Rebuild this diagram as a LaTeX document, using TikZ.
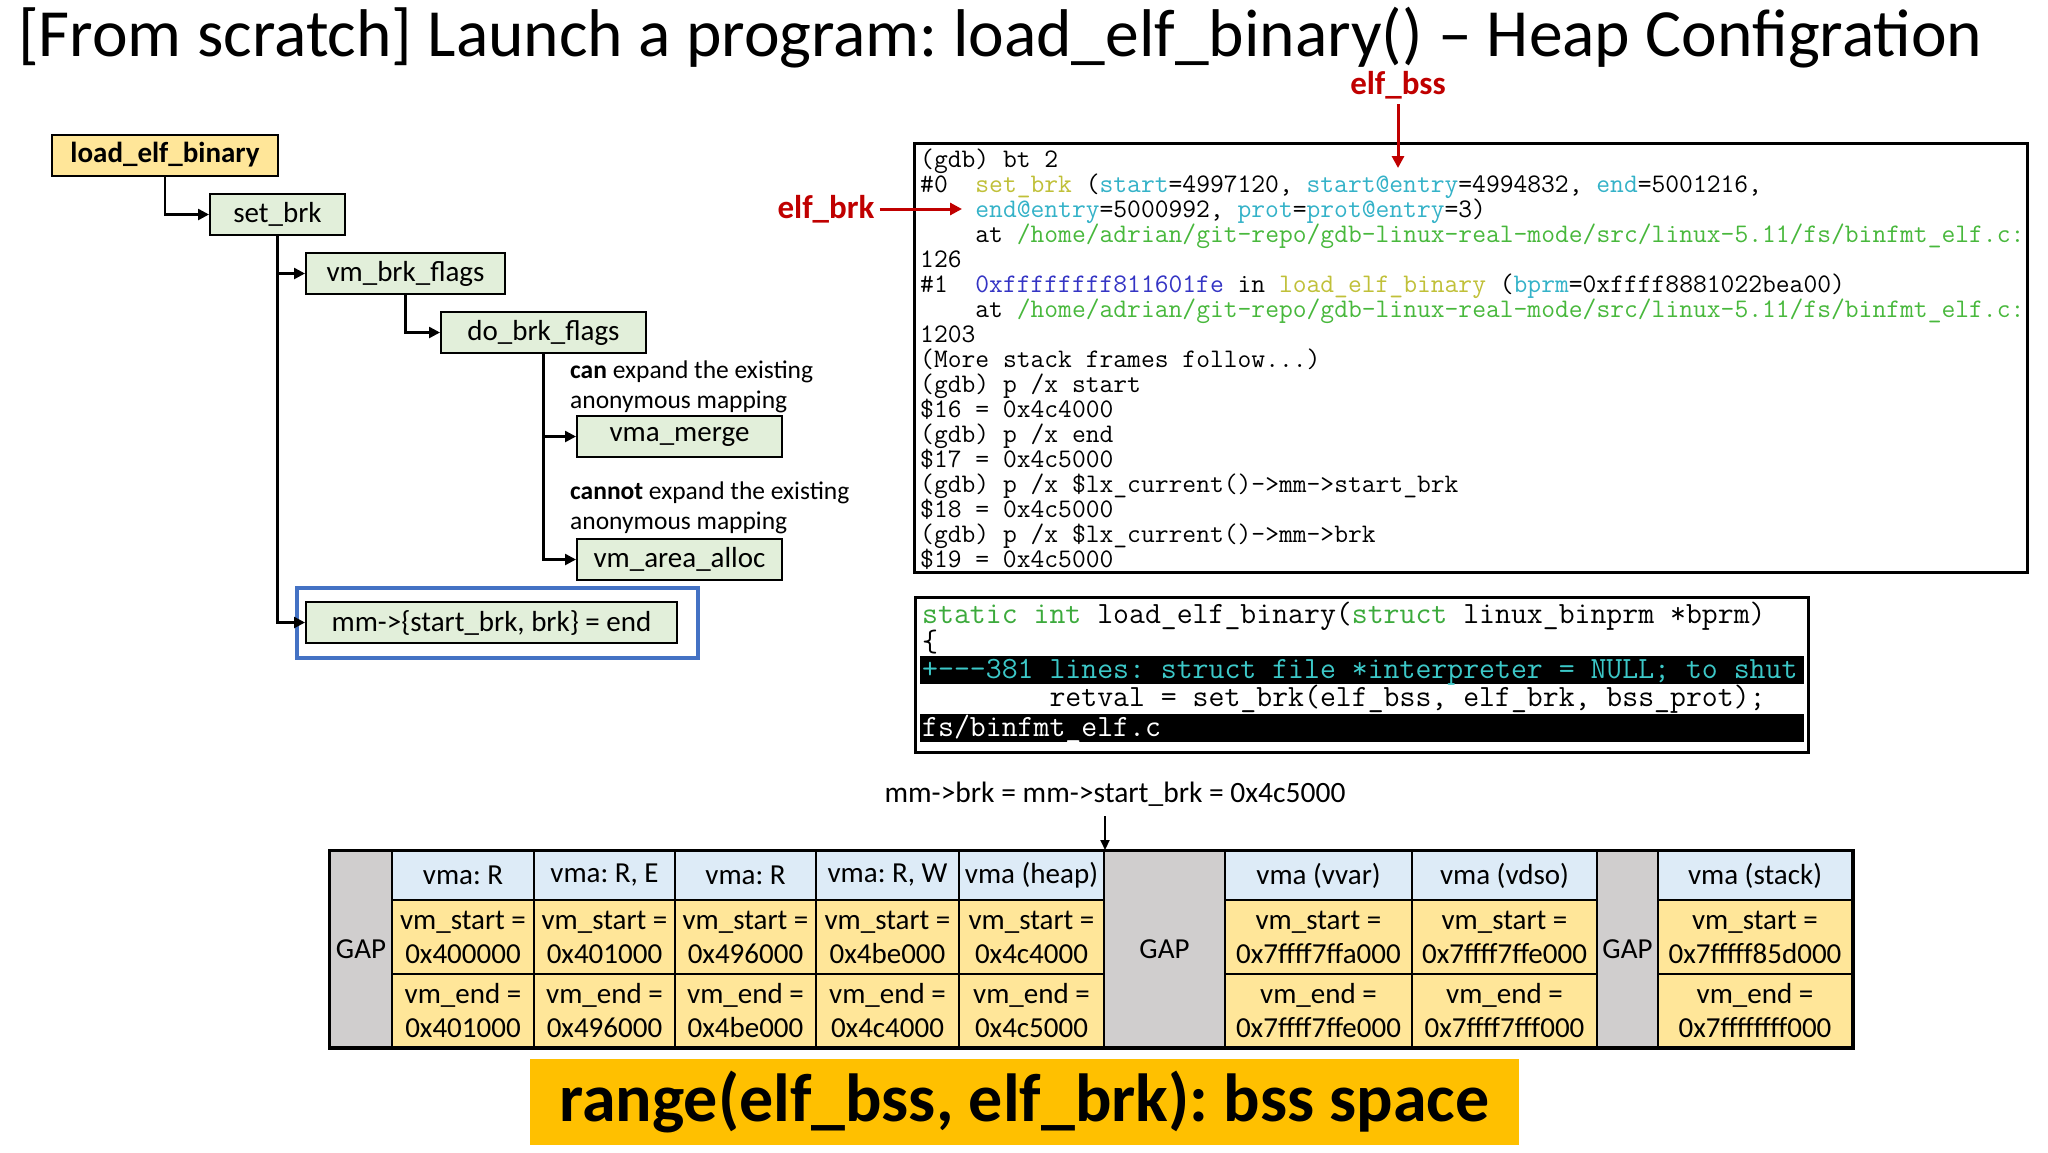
\documentclass[tikz,border=0pt]{standalone}
\usepackage{fontspec}
\setmainfont{Carlito}
\usetikzlibrary{arrows.meta}
\definecolor{boxgreen}{RGB}{226,239,218}
\definecolor{boxyellow}{RGB}{255,230,153}
\definecolor{hdrblue}{RGB}{221,235,247}
\definecolor{gapgray}{RGB}{208,206,206}
\definecolor{bannerorange}{RGB}{255,192,0}
\definecolor{darkred}{RGB}{192,0,0}
\definecolor{frameblue}{RGB}{68,114,196}
\definecolor{gdbolive}{RGB}{192,192,56}
\definecolor{gdbcyan}{RGB}{52,178,200}
\definecolor{gdbgreen}{RGB}{72,184,60}
\definecolor{gdbblue}{RGB}{52,52,196}
\definecolor{srcgreen}{RGB}{60,170,60}
\definecolor{srccyan}{RGB}{60,200,200}
\newcommand\vmacol[6]{%
  \node[hdrcell, minimum width={#3-#2}] (#1h) at ({(#2+#3)/2},875.5) {#4};
  \node[datcell, minimum width={#3-#2}] (#1s) at ({(#2+#3)/2},937) {vm\_start =\\#5};
  \node[datcell, minimum width={#3-#2}] (#1e) at ({(#2+#3)/2},1010.5) {vm\_end =\\#6};
}
\newcommand\gapcol[3]{%
  \node[gapcell, minimum width={#3-#2}] (#1) at ({(#2+#3)/2},949) {GAP};
}
\newcommand\gdbl[2]{%
  \node[gdbline] (g#1) at (920,{160+25*(#1-1)+7}) {#2};
}
\begin{document}
\frenchspacing
\begin{tikzpicture}[x=1pt,y=-1pt,
  tbox/.style={draw=black, line width=2pt, fill=boxgreen, inner sep=0pt,
    minimum height=41, font=\fontsize{29}{34}\selectfont},
  tarrow/.style={line width=2.5pt, -{Triangle[length=11pt,width=11pt]}},
  redlbl/.style={text=darkred, inner sep=5pt, font=\bfseries\fontsize{33}{38}\selectfont},
  redarr/.style={draw=darkred, line width=3pt, -{Triangle[length=12pt,width=12pt]}},
  blkarr/.style={line width=2pt, -{Triangle[length=10pt,width=9pt]}},
  gdbline/.style={anchor=base west, inner sep=0pt, font=\ttfamily\frenchspacing\fontsize{26.8}{25}\selectfont},
  srcline/.style={anchor=base west, inner sep=0pt, font=\ttfamily\frenchspacing\fontsize{30.9}{28}\selectfont},
  hdrcell/.style={draw=black, line width=2pt, fill=hdrblue, inner sep=0pt,
    minimum height=49, font=\fontsize{29}{34}\selectfont},
  datcell/.style={draw=black, line width=2pt, fill=boxyellow, inner sep=0pt,
    minimum height=73.5, align=center, font=\fontsize{29}{34}\selectfont},
  gapcell/.style={draw=black, line width=2pt, fill=gapgray, inner sep=0pt,
    minimum height=196, font=\fontsize{29}{34}\selectfont},
  notetext/.style={anchor=west, inner sep=0pt, align=left, font=\fontsize{25.5}{30}\selectfont}
]
\useasboundingbox (0,0) rectangle (2048,1152);
\fill[white] (0,0) rectangle (2048,1152);

% title
\node[anchor=base west, inner sep=0pt, font=\fontsize{67.5}{80}\selectfont] (title) at (18,56)
  {[From scratch] Launch a program: load\_elf\_binary() – Heap Configration};

% call tree
\node[tbox, fill=boxyellow, minimum width=226, font=\bfseries\fontsize{29}{34}\selectfont] (leb) at (165,155) {load\_elf\_binary};
\node[tbox, minimum width=135] (sb) at (277.5,214.5) {set\_brk};
\node[tbox, minimum width=199] (vbf) at (405.5,273.5) {vm\_brk\_flags};
\node[tbox, minimum width=205] (dbf) at (543.5,332.5) {do\_brk\_flags};
\node[tbox, minimum width=205] (vmm) at (679.5,436.5) {vma\_merge};
\node[tbox, minimum width=205] (vaa) at (679.5,559.5) {vm\_area\_alloc};
\node[draw=frameblue, line width=4pt, minimum width=401, minimum height=70, inner sep=0pt] (mmframe) at (497.5,623) {};
\node[tbox, minimum width=371] (mm) at (491.5,622.5) {mm->\{start\_brk, brk\} = end};

\draw[tarrow] (leb.south) |- (sb.west);
\draw[tarrow] (sb.south) |- (vbf.west);
\draw[tarrow] (sb.south) |- (mm.west);
\draw[tarrow] (vbf.south) |- (dbf.west);
\draw[tarrow] (dbf.south) |- (vmm.west);
\draw[tarrow] (dbf.south) |- (vaa.west);

\node[notetext] (cannote) at (570,387) {\textbf{can} expand the existing\\anonymous mapping};
\node[notetext] (cannotnote) at (570,508) {\textbf{cannot} expand the existing\\anonymous mapping};

% gdb box
\node[draw=black, line width=3pt, minimum width=1113, minimum height=429, inner sep=0pt] (gdb) at (1470.5,357.5) {};
\begin{scope}
\clip (916,145) rectangle (2025,570);
\gdbl{1}{(gdb) bt 2}
\gdbl{2}{\#0~~\textcolor{gdbolive}{set\_brk} (\textcolor{gdbcyan}{start}=4997120, \textcolor{gdbcyan}{start@entry}=4994832, \textcolor{gdbcyan}{end}=5001216,}
\gdbl{3}{~~~~\textcolor{gdbcyan}{end@entry}=5000992, \textcolor{gdbcyan}{prot}=\textcolor{gdbcyan}{prot@entry}=3)}
\gdbl{4}{~~~~at \textcolor{gdbgreen}{/home/adrian/git-repo/gdb-linux-real-mode/src/linux-5.11/fs/binfmt\_elf.c:}}
\gdbl{5}{126}
\gdbl{6}{\#1~~\textcolor{gdbblue}{0xffffffff811601fe} in \textcolor{gdbolive}{load\_elf\_binary} (\textcolor{gdbcyan}{bprm}=0xffff8881022bea00)}
\gdbl{7}{~~~~at \textcolor{gdbgreen}{/home/adrian/git-repo/gdb-linux-real-mode/src/linux-5.11/fs/binfmt\_elf.c:}}
\gdbl{8}{1203}
\gdbl{9}{(More stack frames follow...)}
\gdbl{10}{(gdb) p /x start}
\gdbl{11}{\$16 = 0x4c4000}
\gdbl{12}{(gdb) p /x end}
\gdbl{13}{\$17 = 0x4c5000}
\gdbl{14}{(gdb) p /x \$lx\_current()->mm->start\_brk}
\gdbl{15}{\$18 = 0x4c5000}
\gdbl{16}{(gdb) p /x \$lx\_current()->mm->brk}
\gdbl{17}{\$19 = 0x4c5000}
\end{scope}

% red labels
\node[redlbl] (ebss) at (1398,85) {elf\_bss};
\coordinate (ebsstip) at (1398,168);
\draw[redarr] (ebss) -- (ebsstip);
\node[redlbl] (ebrk) at (826,209) {elf\_brk};
\coordinate (ebrktip) at (962,209);
\draw[redarr] (ebrk) -- (ebrktip);

% source box
\node[draw=black, line width=3pt, minimum width=893, minimum height=155, inner sep=0pt] (src) at (1361.5,674.5) {};
\node[fill=black, minimum width=884, minimum height=28, inner sep=0pt] (bar1) at (1362,670) {};
\node[fill=black, minimum width=884, minimum height=28, inner sep=0pt] (bar2) at (1362,728) {};
\node[srcline] (s1) at (922,623) {\textcolor{srcgreen}{static int} load\_elf\_binary(\textcolor{srcgreen}{struct} linux\_binprm *bprm)};
\node[srcline] (s2) at (922,651) {\{};
\node[srcline] (s3) at (922,678) {\textcolor{srccyan}{+-{}-{}-381 lines: struct file *interpreter = NULL; to shut}};
\node[srcline] (s4) at (922,706) {~~~~~~~~retval = set\_brk(elf\_bss, elf\_brk, bss\_prot);};
\node[srcline] (s5) at (922,736) {\textcolor{white}{fs/binfmt\_elf.c}};

% table
\gapcol{gapa}{330}{392}
\vmacol{ca}{392}{534}{vma: R}{0x400000}{0x401000}
\vmacol{cb}{534}{675}{vma: R, E}{0x401000}{0x496000}
\vmacol{cc}{675}{816}{vma: R}{0x496000}{0x4be000}
\vmacol{cd}{816}{959}{vma: R, W}{0x4be000}{0x4c4000}
\vmacol{ce}{959}{1104}{vma (heap)}{0x4c4000}{0x4c5000}
\gapcol{gapb}{1104}{1225}
\vmacol{cf}{1225}{1412}{vma (vvar)}{0x7ffff7ffa000}{0x7ffff7ffe000}
\vmacol{cg}{1412}{1597}{vma (vdso)}{0x7ffff7ffe000}{0x7ffff7fff000}
\gapcol{gapc}{1597}{1658}
\vmacol{ch}{1658}{1852}{vma (stack)}{0x7fffff85d000}{0x7ffffffff000}
\draw[line width=3pt] (gapa.north west) rectangle (che.south east);

\node[inner sep=0pt, font=\fontsize{29.5}{34}\selectfont] (brklbl) at (1115,794) {mm->brk = mm->start\_brk = 0x4c5000};
\coordinate (heapend) at (ceh.north east);
\draw[blkarr] (brklbl.south -| heapend) ++(0,10) -- (heapend);

% banner
\node[fill=bannerorange, minimum width=989, minimum height=86, inner sep=0pt,
  font=\bfseries\fontsize{68}{80}\selectfont] (banner) at (1024.5,1102) {range(elf\_bss, elf\_brk): bss space};
\end{tikzpicture}
\end{document}
